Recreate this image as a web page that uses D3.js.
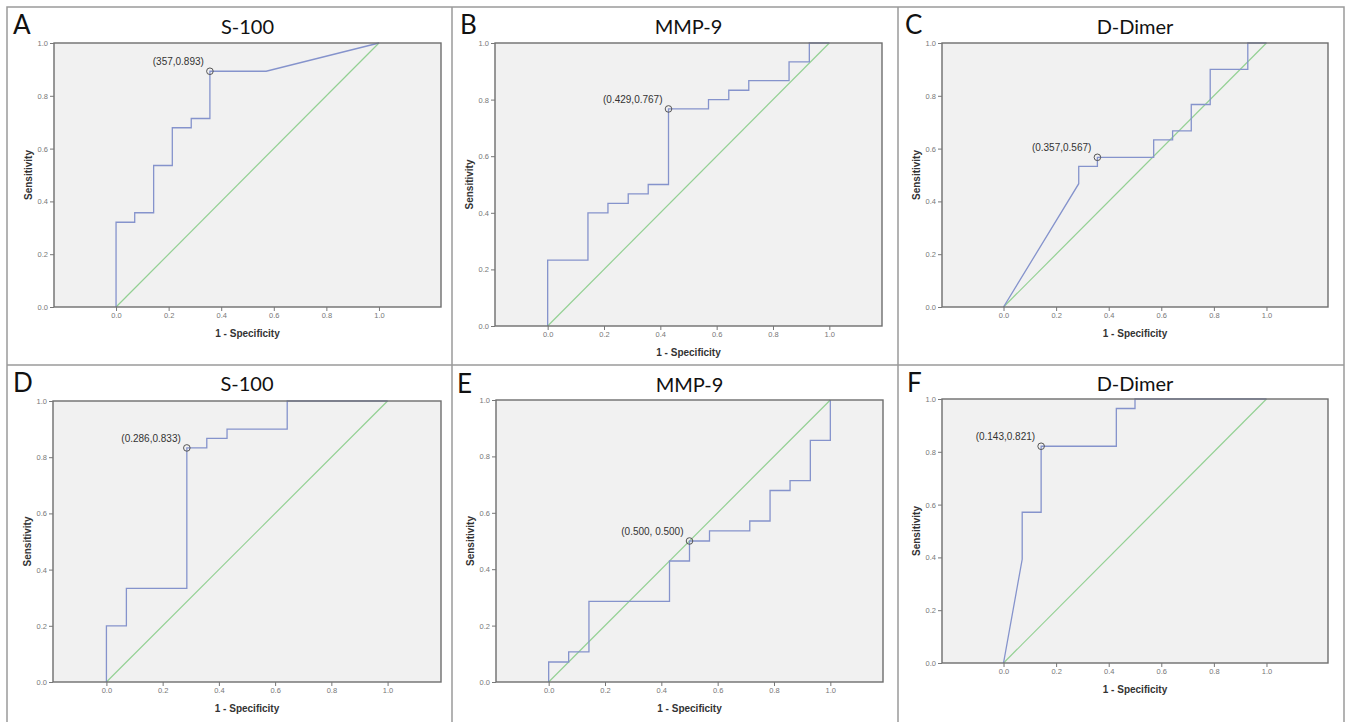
<!DOCTYPE html>
<html>
<head>
<meta charset="utf-8">
<script src="https://cdn.jsdelivr.net/npm/d3@7"></script>
<style>
  body { margin: 0; background: #fff; }
  svg { display: block; }
</style>
</head>
<body>
<div id="chart"></div>
<script>
// Panel letters and titles
var panelLetters = ['A', 'B', 'C', 'D', 'E', 'F'];
var panelTitles = ['S-100', 'MMP-9', 'D-Dimer', 'S-100', 'MMP-9', 'D-Dimer'];

// ROC curves: [1 - specificity, sensitivity]
var rocA = [[0,0],[0,0.321],[0.071,0.321],[0.071,0.357],[0.143,0.357],[0.143,0.536],[0.214,0.536],[0.214,0.679],[0.286,0.679],[0.286,0.714],[0.357,0.714],[0.357,0.893],[0.571,0.893],[1,1]];
var rocB = [[0,0],[0,0.233],[0.143,0.233],[0.143,0.4],[0.214,0.4],[0.214,0.433],[0.286,0.433],[0.286,0.467],[0.357,0.467],[0.357,0.5],[0.429,0.5],[0.429,0.767],[0.571,0.767],[0.571,0.8],[0.643,0.8],[0.643,0.833],[0.714,0.833],[0.714,0.867],[0.857,0.867],[0.857,0.933],[0.929,0.933],[0.929,1],[1,1]];
var rocC = [[0,0],[0.286,0.467],[0.286,0.533],[0.357,0.533],[0.357,0.567],[0.571,0.567],[0.571,0.633],[0.643,0.633],[0.643,0.667],[0.714,0.667],[0.714,0.767],[0.786,0.767],[0.786,0.9],[0.929,0.9],[0.929,1],[1,1]];
var rocD = [[0,0],[0,0.2],[0.071,0.2],[0.071,0.333],[0.286,0.333],[0.286,0.833],[0.357,0.833],[0.357,0.867],[0.429,0.867],[0.429,0.9],[0.643,0.9],[0.643,1],[1,1]];
var rocE = [[0,0],[0,0.071],[0.071,0.071],[0.071,0.107],[0.143,0.107],[0.143,0.286],[0.429,0.286],[0.429,0.429],[0.5,0.429],[0.5,0.5],[0.571,0.5],[0.571,0.536],[0.714,0.536],[0.714,0.571],[0.786,0.571],[0.786,0.679],[0.857,0.679],[0.857,0.714],[0.929,0.714],[0.929,0.857],[1,0.857],[1,1]];
var rocF = [[0,0],[0.071,0.393],[0.071,0.571],[0.143,0.571],[0.143,0.821],[0.429,0.821],[0.429,0.964],[0.5,0.964],[0.5,1],[1,1]];
var rocCurves = [rocA, rocB, rocC, rocD, rocE, rocF];

// Optimal cut-off points and their labels
var cutoffs = [[0.357,0.893],[0.429,0.767],[0.357,0.567],[0.286,0.833],[0.5,0.5],[0.143,0.821]];
var cutoffLabels = ['(357,0.893)', '(0.429,0.767)', '(0.357,0.567)', '(0.286,0.833)', '(0.500, 0.500)', '(0.143,0.821)'];

var tickValues = [0, 0.2, 0.4, 0.6, 0.8, 1.0];

// Layout of each panel (frame in pixels, x padding in data units)
var layout = [
  { left: 54,  right: 441,  top: 43,  bottom: 307, pad: 0.236, letterX: 13,  titleY: 34,  letterY: 34 },
  { left: 495, right: 882,  top: 43,  bottom: 326, pad: 0.187, letterX: 460, titleY: 34,  letterY: 34 },
  { left: 942, right: 1328, top: 43,  bottom: 307, pad: 0.234, letterX: 905, titleY: 34,  letterY: 34 },
  { left: 53,  right: 441,  top: 401, bottom: 682, pad: 0.19,  letterX: 13,  titleY: 391, letterY: 392 },
  { left: 496, right: 883,  top: 400, bottom: 682, pad: 0.187, letterX: 457, titleY: 392, letterY: 393 },
  { left: 942, right: 1328, top: 399, bottom: 663, pad: 0.234, letterX: 907, titleY: 391, letterY: 392 }
];

var svg = d3.select('#chart')
  .append('svg')
  .attr('width', 1352)
  .attr('height', 722);

// Panel grid lines
var gridColor = '#9a9a9a';
svg.append('rect')
  .attr('x', 7).attr('y', 7)
  .attr('width', 1337).attr('height', 730)
  .attr('fill', 'none')
  .attr('stroke', gridColor)
  .attr('stroke-width', 1.5);
[452, 898].forEach(function(x) {
  svg.append('line')
    .attr('x1', x).attr('x2', x).attr('y1', 7).attr('y2', 722)
    .attr('stroke', gridColor).attr('stroke-width', 1.5);
});
svg.append('line')
  .attr('x1', 7).attr('x2', 1344).attr('y1', 365).attr('y2', 365)
  .attr('stroke', gridColor).attr('stroke-width', 1.5);

var line = d3.line();

layout.forEach(function(L, i) {
  var g = svg.append('g');

  var xScale = d3.scaleLinear()
    .domain([-L.pad, 1 + L.pad])
    .range([L.left, L.right]);

  var yScale = d3.scaleLinear()
    .domain([0, 1])
    .range([L.bottom, L.top]);

  // plot background
  g.append('rect')
    .attr('x', L.left).attr('y', L.top)
    .attr('width', L.right - L.left).attr('height', L.bottom - L.top)
    .attr('fill', '#f1f1f1');

  // reference diagonal
  g.append('path')
    .datum([[0, 0], [1, 1]])
    .attr('d', line.x(function(d) { return xScale(d[0]); }).y(function(d) { return yScale(d[1]); }))
    .attr('fill', 'none')
    .attr('stroke', '#93d093')
    .attr('stroke-width', 1.2);

  // ROC curve
  g.append('path')
    .datum(rocCurves[i])
    .attr('d', line.x(function(d) { return xScale(d[0]); }).y(function(d) { return yScale(d[1]); }))
    .attr('fill', 'none')
    .attr('stroke', '#8593cc')
    .attr('stroke-width', 1.3);

  // frame
  g.append('rect')
    .attr('x', L.left).attr('y', L.top)
    .attr('width', L.right - L.left).attr('height', L.bottom - L.top)
    .attr('fill', 'none')
    .attr('stroke', '#6e6e6e')
    .attr('stroke-width', 1.4);

  // axes
  var xAxis = g.append('g')
    .attr('transform', 'translate(0,' + L.bottom + ')')
    .call(d3.axisBottom(xScale).tickValues(tickValues).tickFormat(d3.format('.1f')).tickSize(4).tickPadding(2));
  var yAxis = g.append('g')
    .attr('transform', 'translate(' + L.left + ',0)')
    .call(d3.axisLeft(yScale).tickValues(tickValues).tickFormat(d3.format('.1f')).tickSize(4).tickPadding(2));
  [xAxis, yAxis].forEach(function(ax) {
    ax.select('.domain').remove();
    ax.selectAll('line').attr('stroke', '#777');
    ax.selectAll('text')
      .style('font-family', 'Liberation Sans, Arial, sans-serif')
      .style('font-size', '7.5px')
      .attr('fill', '#777');
  });

  // cut-off marker and label
  var cx = xScale(cutoffs[i][0]), cy = yScale(cutoffs[i][1]);
  g.append('circle')
    .attr('cx', cx).attr('cy', cy).attr('r', 3.3)
    .attr('fill', 'none')
    .attr('stroke', '#555')
    .attr('stroke-width', 1);
  g.append('text')
    .attr('x', cx - 6).attr('y', cy - 6)
    .attr('text-anchor', 'end')
    .style('font-family', 'Liberation Sans, Arial, sans-serif')
    .style('font-size', '10px')
    .attr('fill', '#333')
    .text(cutoffLabels[i]);

  // axis titles
  g.append('text')
    .attr('x', (L.left + L.right) / 2)
    .attr('y', L.bottom + 30)
    .attr('text-anchor', 'middle')
    .style('font-family', 'Liberation Sans, Arial, sans-serif')
    .style('font-size', '10px')
    .style('font-weight', 'bold')
    .attr('fill', '#333')
    .text('1 - Specificity');
  g.append('text')
    .attr('transform', 'translate(' + (L.left - 22) + ',' + ((L.top + L.bottom) / 2) + ') rotate(-90)')
    .attr('text-anchor', 'middle')
    .style('font-family', 'Liberation Sans, Arial, sans-serif')
    .style('font-size', '10px')
    .style('font-weight', 'bold')
    .attr('fill', '#333')
    .text('Sensitivity');

  // panel title and letter
  g.append('text')
    .attr('x', (L.left + L.right) / 2)
    .attr('y', L.titleY)
    .attr('text-anchor', 'middle')
    .style('font-family', 'Lato, sans-serif')
    .style('font-size', '20px')
    .attr('fill', '#111')
    .text(panelTitles[i]);
  g.append('text')
    .attr('x', L.letterX)
    .attr('y', L.letterY)
    .style('font-family', 'Lato, sans-serif')
    .style('font-size', '26px')
    .attr('fill', '#111')
    .text(panelLetters[i]);
});
</script>
</body>
</html>
